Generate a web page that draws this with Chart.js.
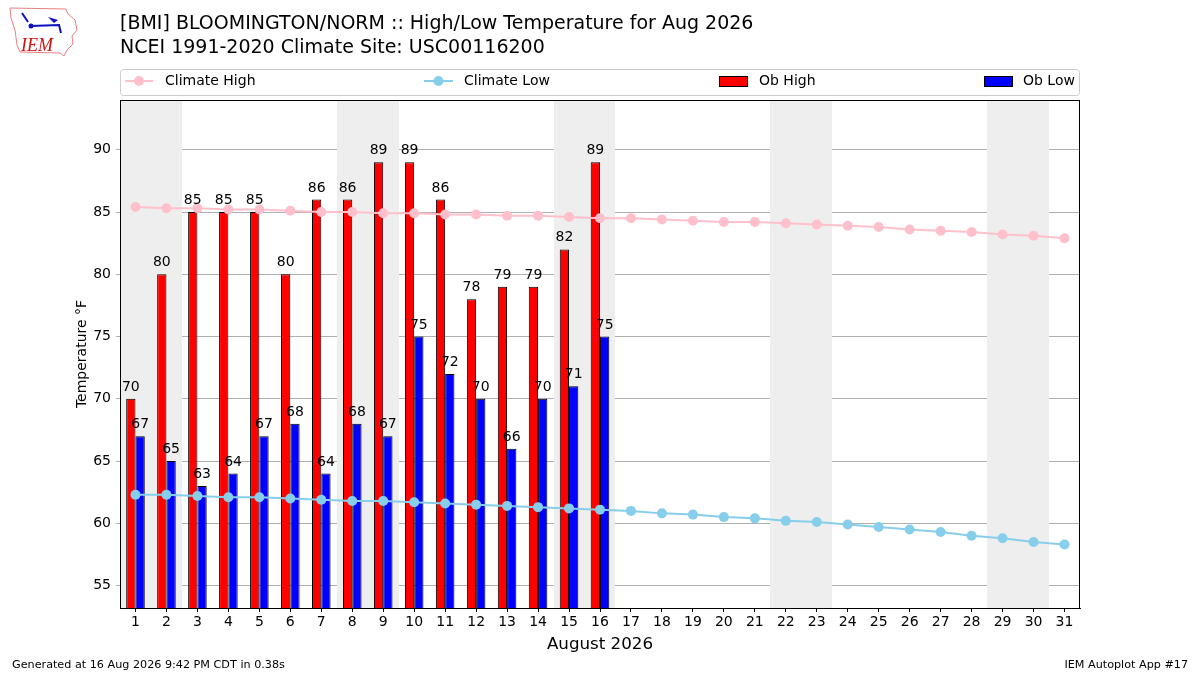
<!DOCTYPE html>
<html>
<head>
<meta charset="utf-8">
<script src="https://cdn.jsdelivr.net/npm/chart.js@4.4.1/dist/chart.umd.min.js"></script>
<style>
html,body{margin:0;padding:0;background:#fff}
#wrap{width:1200px;height:675px}
</style>
</head>
<body>
<div id="wrap"><canvas id="myChart" width="1200" height="675"></canvas></div>
<script>
// datos del grafico
const dias = ['1','2','3','4','5','6','7','8','9','10','11','12','13','14','15','16',
  '17','18','19','20','21','22','23','24','25','26','27','28','29','30','31'];

const climaAlta = [85.4,85.3,85.3,85.2,85.2,85.1,85.0,85.0,84.9,84.9,84.8,84.8,84.7,84.7,84.6,84.5,
  84.5,84.4,84.3,84.2,84.2,84.1,84.0,83.9,83.8,83.6,83.5,83.4,83.2,83.1,82.9];

const climaBaja = [62.3,62.3,62.2,62.1,62.1,62.0,61.9,61.8,61.8,61.7,61.6,61.5,61.4,61.3,61.2,61.1,
  61.0,60.8,60.7,60.5,60.4,60.2,60.1,59.9,59.7,59.5,59.3,59.0,58.8,58.5,58.3];

const obsAlta = [70,80,85,85,85,80,86,86,89,89,86,78,79,79,82,89];
const obsBaja = [67,65,63,64,67,68,64,68,67,75,72,70,66,70,71,75];

const finDeSemana = ['1','2','8','9','15','16','22','23','29','30'];

const yMin = 53.2;
const yMax = 94.0;

const titulo1 = '[BMI] BLOOMINGTON/NORM :: High/Low Temperature for Aug 2026';
const titulo2 = 'NCEI 1991-2020 Climate Site: USC00116200';
const pieIzq = 'Generated at 16 Aug 2026 9:42 PM CDT in 0.38s';
const pieDer = 'IEM Autoplot App #17';

const FUENTE = '"DejaVu Sans", Verdana, sans-serif';

// franjas grises de fin de semana, con la escala x
const sombrasFinde = {
  id: 'sombrasFinde',
  beforeDatasetsDraw(chart) {
    const ctx = chart.ctx;
    const x = chart.scales.x;
    const area = chart.chartArea;
    const paso = x.getPixelForValue(1) - x.getPixelForValue(0);
    ctx.save();
    ctx.fillStyle = '#eeeeee';
    finDeSemana.forEach(d => {
      const px = x.getPixelForValue(dias.indexOf(d));
      const x0 = Math.round(px - paso / 2);
      const x1 = Math.round(px + paso / 2);
      ctx.fillRect(x0, area.top, x1 - x0, area.bottom - area.top);
    });
    ctx.restore();
  }
};

// etiquetas encima de las barras
const etiquetasBarras = {
  id: 'etiquetasBarras',
  afterDatasetsDraw(chart) {
    const ctx = chart.ctx;
    ctx.save();
    ctx.font = '14px ' + FUENTE;
    ctx.fillStyle = '#000';
    ctx.textAlign = 'center';
    ctx.textBaseline = 'alphabetic';
    chart.data.datasets.forEach((ds, i) => {
      if (!ds.conEtiqueta) return;
      const meta = chart.getDatasetMeta(i);
      meta.data.forEach((bar, j) => {
        const v = ds.data[j];
        if (v == null) return;
        ctx.fillText(String(v), bar.x, bar.y - 8);
      });
    });
    ctx.restore();
  }
};

// titulos, leyenda, pie y logo
const decoracion = {
  id: 'decoracion',
  afterDraw(chart) {
    const ctx = chart.ctx;
    const area = chart.chartArea;
    ctx.save();

    // marco del area
    ctx.strokeStyle = '#000';
    ctx.lineWidth = 1;
    ctx.strokeRect(area.left + 0.5, area.top + 0.5, area.right - area.left - 1, area.bottom - area.top);

    // titulos
    ctx.fillStyle = '#000';
    ctx.textAlign = 'left';
    ctx.textBaseline = 'middle';
    ctx.font = '19px ' + FUENTE;
    ctx.fillText(titulo1, 120, 24);
    ctx.fillText(titulo2, 120, 48);

    // leyenda
    ctx.strokeStyle = '#cccccc';
    ctx.beginPath();
    ctx.roundRect(120.5, 69.5, 959, 26, 3);
    ctx.stroke();
    const yl = 81;
    ctx.font = '14px ' + FUENTE;
    const ds = chart.data.datasets;
    const lineas = [[ds[0], 125, 153, 165], [ds[1], 424, 453, 464]];
    lineas.forEach(([d, x0, x1, xt]) => {
      ctx.strokeStyle = d.borderColor;
      ctx.lineWidth = 2;
      ctx.beginPath();
      ctx.moveTo(x0, yl);
      ctx.lineTo(x1, yl);
      ctx.stroke();
      ctx.fillStyle = d.borderColor;
      ctx.beginPath();
      ctx.arc((x0 + x1) / 2, yl, 5, 0, Math.PI * 2);
      ctx.fill();
      ctx.fillStyle = '#000';
      ctx.fillText(d.label, xt, yl);
    });
    const cajas = [[ds[2], 719, 759], [ds[3], 984, 1023]];
    cajas.forEach(([d, x0, xt]) => {
      ctx.fillStyle = d.backgroundColor;
      ctx.fillRect(x0, yl - 5, 28, 10);
      ctx.strokeStyle = '#000';
      ctx.lineWidth = 1;
      ctx.strokeRect(x0 + 0.5, yl - 4.5, 28, 10);
      ctx.fillStyle = '#000';
      ctx.fillText(d.label, xt, yl);
    });

    // pie
    ctx.font = '11.2px ' + FUENTE;
    ctx.fillText(pieIzq, 12, 665);
    ctx.textAlign = 'right';
    ctx.fillText(pieDer, 1188, 665);

    // logo IEM simplificado
    ctx.strokeStyle = '#e88080';
    ctx.lineWidth = 1;
    ctx.beginPath();
    ctx.moveTo(10, 8);
    ctx.lineTo(66, 9);
    ctx.lineTo(68, 14);
    ctx.lineTo(75, 20);
    ctx.lineTo(77, 30);
    ctx.lineTo(72, 36);
    ctx.lineTo(73, 44);
    ctx.lineTo(67, 50);
    ctx.lineTo(64, 56);
    ctx.lineTo(60, 53);
    ctx.lineTo(20, 52);
    ctx.lineTo(17, 45);
    ctx.lineTo(15, 30);
    ctx.lineTo(11, 18);
    ctx.closePath();
    ctx.stroke();
    ctx.strokeStyle = '#1010c0';
    ctx.fillStyle = '#1010c0';
    ctx.lineWidth = 2;
    ctx.beginPath();
    ctx.moveTo(30, 26);
    ctx.lineTo(60, 25);
    ctx.moveTo(22, 13);
    ctx.lineTo(28, 22);
    ctx.moveTo(59, 25);
    ctx.lineTo(61, 33);
    ctx.stroke();
    ctx.beginPath();
    ctx.moveTo(48, 17);
    ctx.lineTo(58, 20);
    ctx.lineTo(54, 23);
    ctx.closePath();
    ctx.fill();
    ctx.beginPath();
    ctx.arc(31, 26, 2.5, 0, Math.PI * 2);
    ctx.fill();
    ctx.fillStyle = '#d01010';
    ctx.textAlign = 'left';
    ctx.textBaseline = 'alphabetic';
    ctx.font = 'italic 18px "Liberation Serif", "DejaVu Serif", serif';
    ctx.fillText('IEM', 21, 51);

    ctx.restore();
  }
};

const ctx = document.getElementById('myChart');
new Chart(ctx, {
  type: 'bar',
  data: {
    labels: dias,
    datasets: [
      {
        type: 'line',
        label: 'Climate High',
        data: climaAlta,
        borderColor: 'pink',
        backgroundColor: 'pink',
        borderWidth: 2,
        pointRadius: 5,
        pointBorderWidth: 0,
        tension: 0
      },
      {
        type: 'line',
        label: 'Climate Low',
        data: climaBaja,
        borderColor: 'skyblue',
        backgroundColor: 'skyblue',
        borderWidth: 2,
        pointRadius: 5,
        pointBorderWidth: 0,
        tension: 0
      },
      {
        type: 'bar',
        label: 'Ob High',
        data: obsAlta,
        backgroundColor: '#ff0000',
        borderColor: '#000',
        borderWidth: 1,
        borderSkipped: 'bottom',
        conEtiqueta: true
      },
      {
        type: 'bar',
        label: 'Ob Low',
        data: obsBaja,
        backgroundColor: '#0000ff',
        borderColor: '#000',
        borderWidth: 1,
        borderSkipped: 'bottom',
        conEtiqueta: true
      }
    ]
  },
  options: {
    responsive: false,
    animation: false,
    devicePixelRatio: 1,
    datasets: {
      bar: { categoryPercentage: 0.6, barPercentage: 1 }
    },
    layout: { padding: { left: 70, right: 120, top: 100, bottom: 16 } },
    plugins: {
      legend: { display: false },
      tooltip: { enabled: false }
    },
    scales: {
      x: {
        type: 'category',
        offset: true,
        grid: { display: true, offset: false, drawOnChartArea: false, drawTicks: true, tickLength: 4, color: '#000' },
        border: { color: '#000', width: 1 },
        ticks: { color: '#000', font: { family: FUENTE, size: 14 }, padding: 2, maxRotation: 0, autoSkip: false },
        title: { display: true, text: 'August 2026', color: '#000', font: { family: FUENTE, size: 16.7 } },
        afterFit: s => { s.height = 51; }
      },
      y: {
        min: yMin,
        max: yMax,
        grid: { color: '#b0b0b0', drawTicks: true, tickLength: 4 },
        border: { color: '#000', width: 1 },
        ticks: { stepSize: 5, includeBounds: false, color: '#000', font: { family: FUENTE, size: 14 }, padding: 5 },
        title: { display: true, text: 'Temperature °F', color: '#000', font: { family: FUENTE, size: 14 } },
        afterFit: s => { s.width = 50; }
      }
    }
  },
  plugins: [sombrasFinde, etiquetasBarras, decoracion]
});
</script>
</body>
</html>
